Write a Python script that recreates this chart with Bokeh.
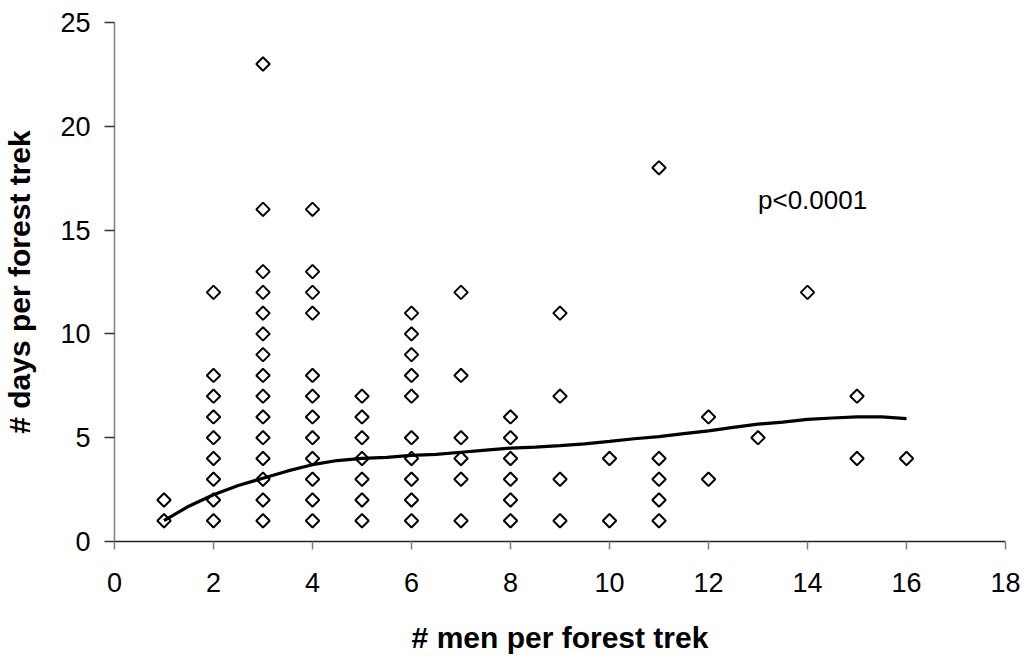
import numpy as np
from bokeh.plotting import figure
from bokeh.models import Range1d, SingleIntervalTicker, Label
from bokeh.embed import file_html
from bokeh.resources import INLINE

# ---- data ----
men_per_trek = [1, 1,
                2, 2, 2, 2, 2, 2, 2, 2, 2,
                3, 3, 3, 3, 3, 3, 3, 3, 3, 3, 3, 3, 3, 3, 3,
                4, 4, 4, 4, 4, 4, 4, 4, 4, 4, 4, 4,
                5, 5, 5, 5, 5, 5, 5,
                6, 6, 6, 6, 6, 6, 6, 6, 6, 6,
                7, 7, 7, 7, 7, 7,
                8, 8, 8, 8, 8, 8,
                9, 9, 9, 9,
                10, 10,
                11, 11, 11, 11, 11,
                12, 12,
                13,
                14,
                15, 15,
                16]
days_per_trek = [1, 2,
                 1, 2, 3, 4, 5, 6, 7, 8, 12,
                 1, 2, 3, 4, 5, 6, 7, 8, 9, 10, 11, 12, 13, 16, 23,
                 1, 2, 3, 4, 5, 6, 7, 8, 11, 12, 13, 16,
                 1, 2, 3, 4, 5, 6, 7,
                 1, 2, 3, 4, 5, 7, 8, 9, 10, 11,
                 1, 3, 4, 5, 8, 12,
                 1, 2, 3, 4, 5, 6,
                 1, 3, 7, 11,
                 1, 4,
                 1, 2, 3, 4, 18,
                 3, 6,
                 5,
                 12,
                 4, 7,
                 4]

trend_x = [1, 1.5, 2, 2.5, 3, 3.5, 4, 4.5, 5, 5.5, 6, 6.5, 7, 7.5, 8, 8.5, 9,
           9.5, 10, 10.5, 11, 11.5, 12, 12.5, 13, 13.5, 14, 14.5, 15, 15.5, 16]
trend_y = [1.0, 1.7, 2.25, 2.7, 3.05, 3.4, 3.7, 3.9, 4.0, 4.05, 4.15, 4.2, 4.3,
           4.4, 4.5, 4.55, 4.62, 4.7, 4.82, 4.95, 5.05, 5.2, 5.33, 5.5, 5.65,
           5.75, 5.88, 5.95, 6.0, 6.0, 5.92]

annotation_text = "p<0.0001"
x_title = "# men per forest trek"
y_title = "# days per forest trek"

FONT = "Liberation Sans"

p = figure(width=1022, height=658, output_backend="svg", toolbar_location=None,
           x_range=Range1d(0, 18), y_range=Range1d(0, 25),
           min_border_left=113, min_border_right=17, min_border_top=22,
           min_border_bottom=117)
p.outline_line_color = None
p.grid.visible = False
p.background_fill_color = "white"
p.border_fill_color = "white"

p.xaxis.ticker = SingleIntervalTicker(interval=2)
p.yaxis.ticker = SingleIntervalTicker(interval=5)
p.xaxis.minor_tick_line_color = None
p.yaxis.minor_tick_line_color = None

for ax in (p.xaxis, p.yaxis):
    ax.major_tick_in = 0
    ax.major_label_text_font = FONT
    ax.major_label_text_font_size = "27px"
    ax.major_label_text_color = "black"
    ax.axis_label_text_font = FONT
    ax.axis_label_text_font_size = "30px"
    ax.axis_label_text_font_style = "bold"
    ax.axis_label_text_color = "black"

p.xaxis.major_tick_out = 8
p.yaxis.major_tick_out = 10

p.xaxis.axis_line_color = "#222222"
p.xaxis.major_tick_line_color = "#808080"
p.yaxis.axis_line_color = "#808080"
p.yaxis.major_tick_line_color = "#333333"
p.xaxis.axis_line_width = 1.5
p.yaxis.axis_line_width = 1.5
p.xaxis.major_tick_line_width = 1.5
p.yaxis.major_tick_line_width = 1.5

p.xaxis.major_label_standoff = 23
p.yaxis.major_label_standoff = 14
p.xaxis.axis_label = x_title
p.yaxis.axis_label = y_title
p.xaxis.axis_label_standoff = 26
p.yaxis.axis_label_standoff = 21

p.scatter(men_per_trek, days_per_trek, marker="square", angle=np.pi / 4,
          size=9.5, fill_color="white", line_color="black", line_width=2)

p.line(trend_x, trend_y, line_color="black", line_width=3.2)

p.add_layout(Label(x=13.0, y=16.45, text=annotation_text, text_font=FONT,
                   text_font_size="26px", text_color="black",
                   text_align="left", text_baseline="middle"))

open("out.html", "w").write(file_html(p, INLINE))
